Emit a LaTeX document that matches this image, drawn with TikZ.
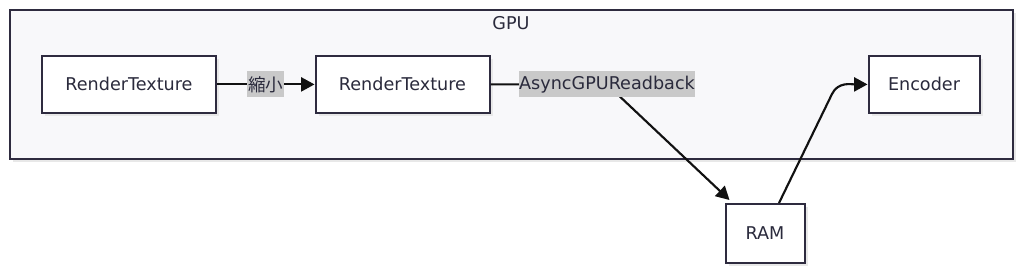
\documentclass[tikz,border=0pt]{standalone}
\usepackage{fontspec}
\setmainfont{DejaVu Sans}
\newfontfamily\cjkfont{Noto Sans CJK JP}
\usetikzlibrary{arrows.meta,shadows,calc}
\definecolor{bordc}{HTML}{2E2B3F}
\definecolor{txtc}{HTML}{2A2A3C}
\definecolor{clusterfill}{HTML}{F8F8FA}
\definecolor{lblbg}{HTML}{C9C9C9}
\definecolor{edgec}{HTML}{111111}
\begin{document}
\begin{tikzpicture}[x=0.75pt,y=-0.75pt,
  font=\fontsize{13.2}{16}\selectfont,
  boxnode/.style={draw=bordc, line width=1.5pt, fill=white, text=txtc,
    minimum height=42.75pt, inner sep=0pt,
    drop shadow={shadow xshift=2.5pt, shadow yshift=-2.5pt, fill=black!9, opacity=1}},
  clusternode/.style={draw=bordc, line width=1.5pt, fill=clusterfill,
    minimum width=752.6pt, minimum height=111.75pt, inner sep=0pt,
    drop shadow={shadow xshift=2.5pt, shadow yshift=-2.5pt, fill=black!9, opacity=1}},
  lbl/.style={fill=lblbg, text=txtc, inner xsep=0.5pt, inner ysep=0pt, minimum height=19.4pt},
  edge/.style={draw=edgec, line width=1.6pt, -{Triangle[length=10pt,width=10.5pt]}},
]
\useasboundingbox (0,0) rectangle (1024,273);
\fill[white] (0,0) rectangle (1024,273);
\node[clusternode] (gpu) at (511.25,84.5) {};
\node[text=txtc] (gputitle) at (511,23.5) {GPU};
\node[boxnode, minimum width=130.5pt] (rt1) at (129,84.4) {RenderTexture};
\node[boxnode, minimum width=130.5pt] (rt2) at (402.5,84.4) {RenderTexture};
\node[boxnode, minimum width=83.25pt] (enc) at (924,84.4) {Encoder};
\node[boxnode, minimum width=59.25pt, minimum height=44.25pt] (ram) at (765,233.5) {RAM};
% edges
\draw[edge] (rt1.east) -- node[lbl] (l1) {\cjkfont 縮小} (rt2.west);
\coordinate (ramin) at ([shift={(5,-3)}]ram.north west);
\coordinate (ramout) at ([shift={(14,0)}]ram.north);
\coordinate (l2c) at (607,84.4);
\draw[edge] (rt2.east) -- (l2c) -- (ramin);
\node[lbl] (l2) at (l2c) {AsyncGPUReadback};
\draw[edge] (ramout) -- ++(53,-109) .. controls +(6,-12.6) and +(-16,0) .. (enc.west);
\end{tikzpicture}
\end{document}
